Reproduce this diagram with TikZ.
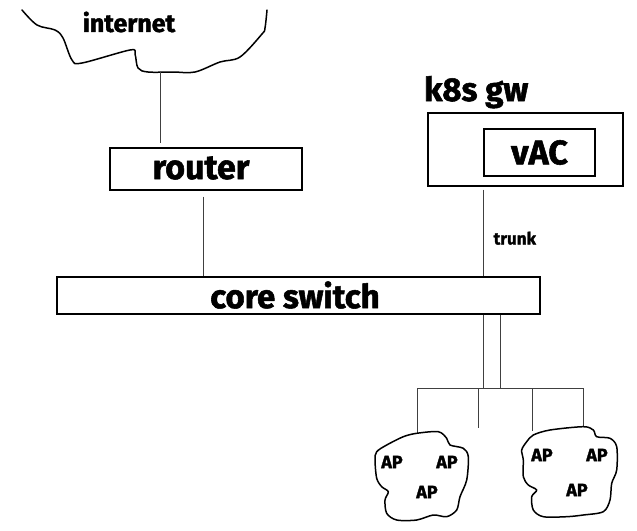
\documentclass[tikz,border=0pt]{standalone}
\usepackage{fontspec}
\setmainfont{Fira Sans}[BoldFeatures={FakeBold=1.6}]
\usetikzlibrary{calc}
\tikzset{
  box/.style={draw=black, line width=1.3pt, rectangle, inner sep=0pt},
  conn/.style={draw=black!75, line width=0.7pt},
  cloudline/.style={draw=black, line width=1.5pt, line join=round, line cap=round},
  aptext/.style={font=\bfseries\fontsize{18}{18}\selectfont}
}
\begin{document}
\begin{tikzpicture}[x=1pt, y=-1pt]
\useasboundingbox (0,0) rectangle (637,530);

% internet cloud (open)
\draw[cloudline] plot[smooth, tension=0.55] coordinates {(22,10) (37,25) (55,30) (63,38) (72,60) (82,63) (130,50) (135,54) (138,68) (148,72) (173,72) (195,72) (220,62) (240,57) (262,34) (265,28) (267,10)};
\coordinate (inet) at (160,72);
\node[font=\bfseries\fontsize{25}{25}\selectfont] (internet) at (129,22) {internet};

% router
\node[box, minimum width=192pt, minimum height=42pt] (router) at (206,169) {};
\node[font=\bfseries\fontsize{34}{34}\selectfont] (routertext) at (201,168) {router};

% core switch
\node[box, minimum width=483pt, minimum height=37pt] (core) at (298.5,295.5) {};
\node[font=\bfseries\fontsize{33}{33}\selectfont] (coretext) at (295,295) {core switch};

% k8s gw
\node[box, minimum width=195pt, minimum height=73pt] (k8s) at (525.5,149.5) {};
\node[box, minimum width=111pt, minimum height=47pt, font=\bfseries\fontsize{34}{34}\selectfont] (vac) at (539.5,152.5) {vAC};
\node[anchor=base west, inner sep=0pt, font=\bfseries\fontsize{33}{33}\selectfont] (k8slabel) at (424,101) {k8s gw};

% connectors
\draw[conn] (inet) -- ($(inet |- router.north)+(0,-4)$);
\draw[conn] ($([xshift=-3pt]router.south)+(0,6)$) -- ([xshift=-3pt]router.south |- core.north);
\draw[conn] ($([xshift=-42.5pt]k8s.south)+(0,3)$) -- node[pos=0.56, right=7pt, font=\bfseries\fontsize{17}{17}\selectfont] (trunk) {trunk} ([xshift=-42.5pt]k8s.south |- core.north);

% bus to APs
\coordinate (busL) at (417,388);
\coordinate (busR) at (583,388);
\draw[conn] ([xshift=184.5pt]core.south) -- ([xshift=184.5pt]core.south |- busL);
\draw[conn] ([xshift=201.5pt]core.south) -- ([xshift=201.5pt]core.south |- busL);
\draw[conn] (busL) -- (busR);

\coordinate (apLtop) at (417,433);
\coordinate (free1) at (478,428);
\coordinate (apR1) at (532,431);
\coordinate (apR2) at (583,427);
\draw[conn] (busL) -- (apLtop);
\draw[conn] (busL -| free1) -- (free1);
\draw[conn] (busL -| apR1) -- (apR1);
\draw[conn] (busR) -- (apR2);

% left AP cloud
\draw[cloudline] plot[smooth cycle, tension=0.5] coordinates {(416.7,433.3) (438.3,431.7) (446.7,438.3) (450,445) (463.3,448.3) (468.3,456.7) (466.7,480) (460,496.7) (456.7,510) (446.7,516.7) (433.3,515) (416.7,520) (396.7,520) (386.7,513.3) (385,500) (388.3,491.7) (381.7,486.7) (376.7,478.3) (375,460) (376.7,451.7) (386.7,445) (403.3,436.7)};
\node[aptext] (apL1) at (392,462) {AP};
\node[aptext] (apL2) at (447,462) {AP};
\node[aptext] (apL3) at (427,492) {AP};

% right AP cloud
\draw[cloudline] plot[smooth cycle, tension=0.5] coordinates {(533.3,435) (550,430) (583.3,426.7) (593.3,430) (596.7,436.7) (610,438.3) (616.7,446.7) (616.7,470) (611.7,483.3) (610,500) (603.3,511.7) (583.3,515) (566.7,516.7) (543.3,516.7) (533.3,510) (531.7,496.7) (536.7,490) (528.3,485) (523.3,476.7) (523.3,460) (521.7,450) (526.7,441.7)};
\node[aptext] (apR1t) at (542,455) {AP};
\node[aptext] (apR2t) at (597,455) {AP};
\node[aptext] (apR3t) at (577,490) {AP};
\end{tikzpicture}
\end{document}
